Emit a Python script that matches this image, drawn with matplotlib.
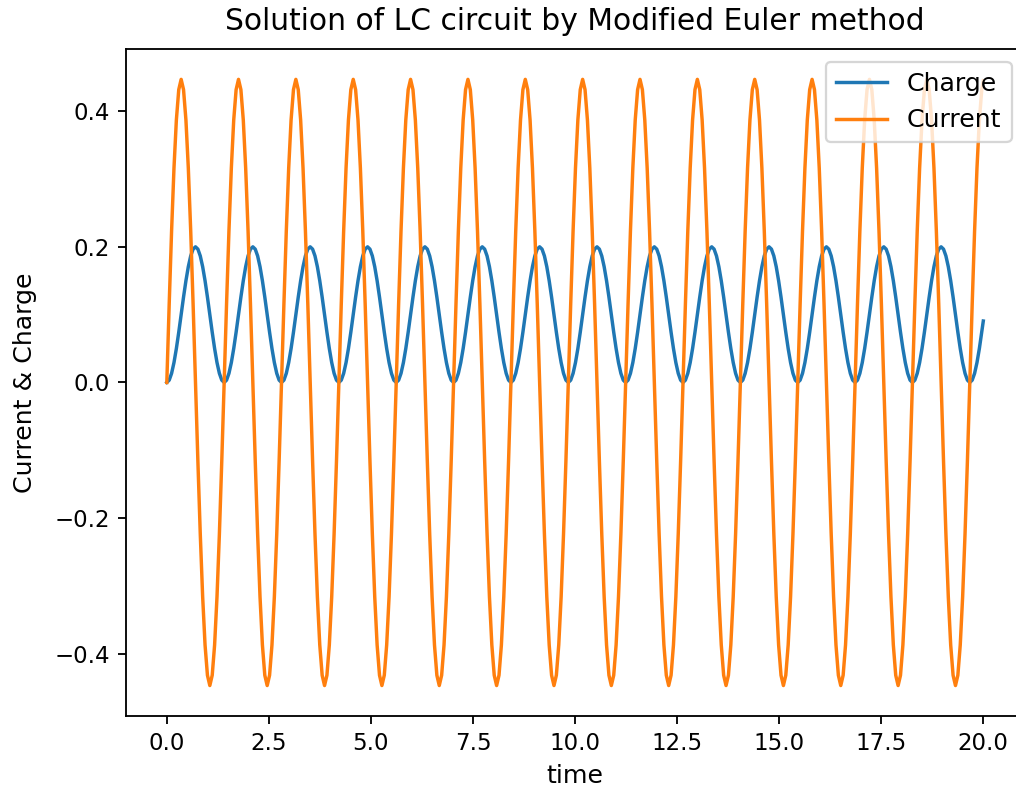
import numpy as np
from matplotlib import pyplot as plt

# samples, one row per period (period ~1.405 s, 24 samples each)
charge = [
    0.0, 0.0034, 0.0134, 0.0293, 0.05, 0.0741, 0.1, 0.1259, 0.15, 0.1707, 0.1866, 0.1966, 0.2, 0.1966, 0.1866, 0.1707, 0.15, 0.1259, 0.1, 0.0741, 0.05, 0.0293, 0.0134, 0.0034,
    0.0, 0.0034, 0.0134, 0.0293, 0.05, 0.0741, 0.1, 0.1259, 0.15, 0.1707, 0.1866, 0.1966, 0.2, 0.1966, 0.1866, 0.1707, 0.15, 0.1259, 0.1, 0.0741, 0.05, 0.0293, 0.0134, 0.0034,
    0.0, 0.0034, 0.0134, 0.0293, 0.05, 0.0741, 0.1, 0.1259, 0.15, 0.1707, 0.1866, 0.1966, 0.2, 0.1966, 0.1866, 0.1707, 0.15, 0.1259, 0.1, 0.0741, 0.05, 0.0293, 0.0134, 0.0034,
    0.0, 0.0034, 0.0134, 0.0293, 0.05, 0.0741, 0.1, 0.1259, 0.15, 0.1707, 0.1866, 0.1966, 0.2, 0.1966, 0.1866, 0.1707, 0.15, 0.1259, 0.1, 0.0741, 0.05, 0.0293, 0.0134, 0.0034,
    0.0, 0.0034, 0.0134, 0.0293, 0.05, 0.0741, 0.1, 0.1259, 0.15, 0.1707, 0.1866, 0.1966, 0.2, 0.1966, 0.1866, 0.1707, 0.15, 0.1259, 0.1, 0.0741, 0.05, 0.0293, 0.0134, 0.0034,
    0.0, 0.0034, 0.0134, 0.0293, 0.05, 0.0741, 0.1, 0.1259, 0.15, 0.1707, 0.1866, 0.1966, 0.2, 0.1966, 0.1866, 0.1707, 0.15, 0.1259, 0.1, 0.0741, 0.05, 0.0293, 0.0134, 0.0034,
    0.0, 0.0034, 0.0134, 0.0293, 0.05, 0.0741, 0.1, 0.1259, 0.15, 0.1707, 0.1866, 0.1966, 0.2, 0.1966, 0.1866, 0.1707, 0.15, 0.1259, 0.1, 0.0741, 0.05, 0.0293, 0.0134, 0.0034,
    0.0, 0.0034, 0.0134, 0.0293, 0.05, 0.0741, 0.1, 0.1259, 0.15, 0.1707, 0.1866, 0.1966, 0.2, 0.1966, 0.1866, 0.1707, 0.15, 0.1259, 0.1, 0.0741, 0.05, 0.0293, 0.0134, 0.0034,
    0.0, 0.0034, 0.0134, 0.0293, 0.05, 0.0741, 0.1, 0.1259, 0.15, 0.1707, 0.1866, 0.1966, 0.2, 0.1966, 0.1866, 0.1707, 0.15, 0.1259, 0.1, 0.0741, 0.05, 0.0293, 0.0134, 0.0034,
    0.0, 0.0034, 0.0134, 0.0293, 0.05, 0.0741, 0.1, 0.1259, 0.15, 0.1707, 0.1866, 0.1966, 0.2, 0.1966, 0.1866, 0.1707, 0.15, 0.1259, 0.1, 0.0741, 0.05, 0.0293, 0.0134, 0.0034,
    0.0, 0.0034, 0.0134, 0.0293, 0.05, 0.0741, 0.1, 0.1259, 0.15, 0.1707, 0.1866, 0.1966, 0.2, 0.1966, 0.1866, 0.1707, 0.15, 0.1259, 0.1, 0.0741, 0.05, 0.0293, 0.0134, 0.0034,
    0.0, 0.0034, 0.0134, 0.0293, 0.05, 0.0741, 0.1, 0.1259, 0.15, 0.1707, 0.1866, 0.1966, 0.2, 0.1966, 0.1866, 0.1707, 0.15, 0.1259, 0.1, 0.0741, 0.05, 0.0293, 0.0134, 0.0034,
    0.0, 0.0034, 0.0134, 0.0293, 0.05, 0.0741, 0.1, 0.1259, 0.15, 0.1707, 0.1866, 0.1966, 0.2, 0.1966, 0.1866, 0.1707, 0.15, 0.1259, 0.1, 0.0741, 0.05, 0.0293, 0.0134, 0.0034,
    0.0, 0.0034, 0.0134, 0.0293, 0.05, 0.0741, 0.1, 0.1259, 0.15, 0.1707, 0.1866, 0.1966, 0.2, 0.1966, 0.1866, 0.1707, 0.15, 0.1259, 0.1, 0.0741, 0.05, 0.0293, 0.0134, 0.0034,
    0.0, 0.0034, 0.0134, 0.0293, 0.05, 0.0741, 0.0906,
]

current = [
    0.0, 0.1157, 0.2235, 0.3161, 0.3871, 0.4318, 0.447, 0.4318, 0.3871, 0.3161, 0.2235, 0.1157, 0.0, -0.1157, -0.2235, -0.3161, -0.3871, -0.4318, -0.447, -0.4318, -0.3871, -0.3161, -0.2235, -0.1157,
    0.0, 0.1157, 0.2235, 0.3161, 0.3871, 0.4318, 0.447, 0.4318, 0.3871, 0.3161, 0.2235, 0.1157, 0.0, -0.1157, -0.2235, -0.3161, -0.3871, -0.4318, -0.447, -0.4318, -0.3871, -0.3161, -0.2235, -0.1157,
    0.0, 0.1157, 0.2235, 0.3161, 0.3871, 0.4318, 0.447, 0.4318, 0.3871, 0.3161, 0.2235, 0.1157, 0.0, -0.1157, -0.2235, -0.3161, -0.3871, -0.4318, -0.447, -0.4318, -0.3871, -0.3161, -0.2235, -0.1157,
    0.0, 0.1157, 0.2235, 0.3161, 0.3871, 0.4318, 0.447, 0.4318, 0.3871, 0.3161, 0.2235, 0.1157, 0.0, -0.1157, -0.2235, -0.3161, -0.3871, -0.4318, -0.447, -0.4318, -0.3871, -0.3161, -0.2235, -0.1157,
    0.0, 0.1157, 0.2235, 0.3161, 0.3871, 0.4318, 0.447, 0.4318, 0.3871, 0.3161, 0.2235, 0.1157, 0.0, -0.1157, -0.2235, -0.3161, -0.3871, -0.4318, -0.447, -0.4318, -0.3871, -0.3161, -0.2235, -0.1157,
    0.0, 0.1157, 0.2235, 0.3161, 0.3871, 0.4318, 0.447, 0.4318, 0.3871, 0.3161, 0.2235, 0.1157, 0.0, -0.1157, -0.2235, -0.3161, -0.3871, -0.4318, -0.447, -0.4318, -0.3871, -0.3161, -0.2235, -0.1157,
    0.0, 0.1157, 0.2235, 0.3161, 0.3871, 0.4318, 0.447, 0.4318, 0.3871, 0.3161, 0.2235, 0.1157, 0.0, -0.1157, -0.2235, -0.3161, -0.3871, -0.4318, -0.447, -0.4318, -0.3871, -0.3161, -0.2235, -0.1157,
    0.0, 0.1157, 0.2235, 0.3161, 0.3871, 0.4318, 0.447, 0.4318, 0.3871, 0.3161, 0.2235, 0.1157, 0.0, -0.1157, -0.2235, -0.3161, -0.3871, -0.4318, -0.447, -0.4318, -0.3871, -0.3161, -0.2235, -0.1157,
    0.0, 0.1157, 0.2235, 0.3161, 0.3871, 0.4318, 0.447, 0.4318, 0.3871, 0.3161, 0.2235, 0.1157, 0.0, -0.1157, -0.2235, -0.3161, -0.3871, -0.4318, -0.447, -0.4318, -0.3871, -0.3161, -0.2235, -0.1157,
    0.0, 0.1157, 0.2235, 0.3161, 0.3871, 0.4318, 0.447, 0.4318, 0.3871, 0.3161, 0.2235, 0.1157, 0.0, -0.1157, -0.2235, -0.3161, -0.3871, -0.4318, -0.447, -0.4318, -0.3871, -0.3161, -0.2235, -0.1157,
    0.0, 0.1157, 0.2235, 0.3161, 0.3871, 0.4318, 0.447, 0.4318, 0.3871, 0.3161, 0.2235, 0.1157, 0.0, -0.1157, -0.2235, -0.3161, -0.3871, -0.4318, -0.447, -0.4318, -0.3871, -0.3161, -0.2235, -0.1157,
    0.0, 0.1157, 0.2235, 0.3161, 0.3871, 0.4318, 0.447, 0.4318, 0.3871, 0.3161, 0.2235, 0.1157, 0.0, -0.1157, -0.2235, -0.3161, -0.3871, -0.4318, -0.447, -0.4318, -0.3871, -0.3161, -0.2235, -0.1157,
    0.0, 0.1157, 0.2235, 0.3161, 0.3871, 0.4318, 0.447, 0.4318, 0.3871, 0.3161, 0.2235, 0.1157, 0.0, -0.1157, -0.2235, -0.3161, -0.3871, -0.4318, -0.447, -0.4318, -0.3871, -0.3161, -0.2235, -0.1157,
    0.0, 0.1157, 0.2235, 0.3161, 0.3871, 0.4318, 0.447, 0.4318, 0.3871, 0.3161, 0.2235, 0.1157, 0.0, -0.1157, -0.2235, -0.3161, -0.3871, -0.4318, -0.447, -0.4318, -0.3871, -0.3161, -0.2235, -0.1157,
    0.0, 0.1157, 0.2235, 0.3161, 0.3871, 0.4318, 0.445,
]

step = 0.05854      # sample spacing in time
t_end = 20.0        # last sample of the run

if __name__ == "__main__":
    t = np.append(np.arange(len(charge) - 1) * step, t_end)

    dpi = 165
    fig = plt.figure(figsize=(1016 / dpi, 791 / dpi), dpi=dpi)
    ax = fig.add_axes([0.124, 0.095, 0.884, 0.843])

    ax.plot(t, charge, label="Charge")
    ax.plot(t, current, label="Current")

    ax.set_title("Solution of LC circuit by Modified Euler method", fontsize=13, pad=8.5)
    ax.set_xlabel("time", fontsize=11)
    ax.set_ylabel("Current & Charge", fontsize=11, labelpad=7.5)
    ax.legend(loc="upper right", fontsize=11)

    plt.savefig("out.png", dpi=dpi)
